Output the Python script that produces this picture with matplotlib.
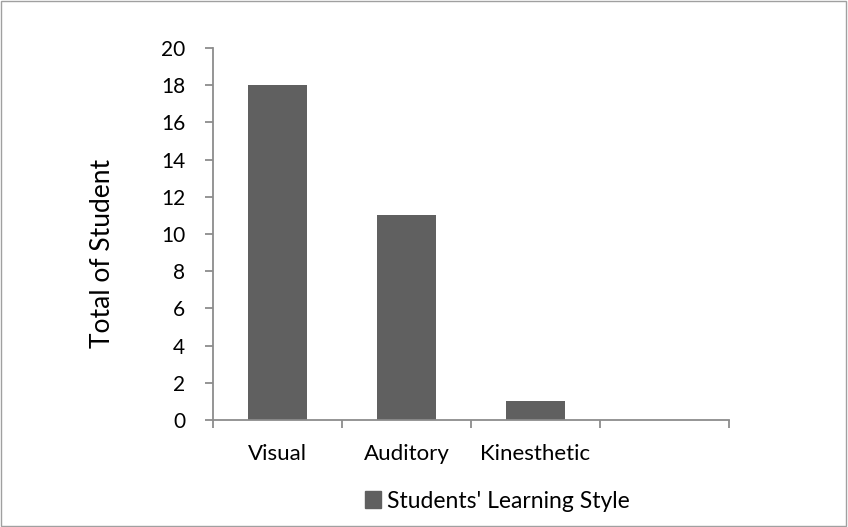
import matplotlib
matplotlib.use('Agg')
import matplotlib.pyplot as plt
from matplotlib.patches import Rectangle, Patch

# chart data
categories = ['Visual', 'Auditory', 'Kinesthetic', '']
totals = [18, 11, 1, 0]
series_name = "Students' Learning Style"

plt.rcParams['font.family'] = ['Lato', 'DejaVu Sans']
bar_color = '#606060'
axis_color = '#8c8c8c'

W, H = 848, 527
fig = plt.figure(figsize=(W / 100, H / 100), dpi=100)
ax = fig.add_axes([213 / W, 1 - 420 / H, (729 - 213) / W, (420 - 48) / H])

pos = list(range(len(categories)))
ax.bar(pos, totals, width=0.455, color=bar_color, zorder=2)

ax.set_xlim(-0.5, len(categories) - 0.5)
ax.set_ylim(0, 20)
ax.set_yticks(range(0, 21, 2))

# ticks between categories, labels at the centres
ax.set_xticks([p - 0.5 for p in pos] + [len(categories) - 0.5])
ax.set_xticklabels([])
ax.set_xticks(pos, minor=True)
ax.set_xticklabels(categories, minor=True)
ax.tick_params(axis='x', which='major', length=6, width=1.3, color=axis_color, direction='out')
ax.tick_params(axis='x', which='minor', length=0, pad=17, labelsize=16)
ax.tick_params(axis='y', length=6, width=1.3, color=axis_color, pad=14, labelsize=15)

for s in ['top', 'right']:
    ax.spines[s].set_visible(False)
for s in ['left', 'bottom']:
    ax.spines[s].set_color(axis_color)
    ax.spines[s].set_linewidth(1.3)

ax.set_ylabel('Total of Student', fontsize=19)
ax.yaxis.set_label_coords((115 - 213) / (729 - 213), (420 - 253) / (420 - 48))

fig.legend(handles=[Patch(color=bar_color, label=series_name)], loc='center',
           bbox_to_anchor=(497 / W, 1 - 501 / H), frameon=False, fontsize=16.5,
           handlelength=0.7, handleheight=0.7, handletextpad=0.25)

# outer chart border
fig.patches.append(Rectangle((0.001, 0.001), 0.997, 0.997, transform=fig.transFigure,
                             fill=False, edgecolor='#a0a0a0', linewidth=1))

fig.savefig('out.png', dpi=100)
